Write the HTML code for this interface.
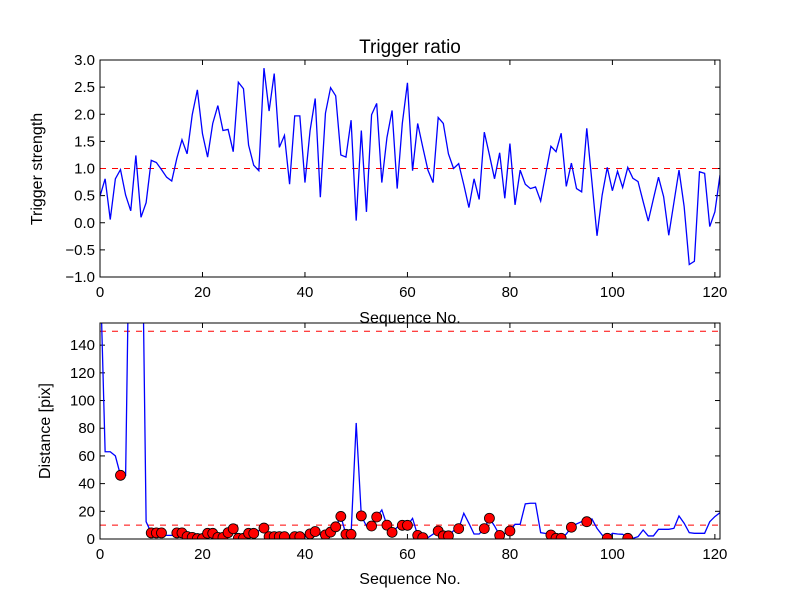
<!DOCTYPE html>
<html><head><meta charset="utf-8"><style>
body{margin:0;background:#fff;}
svg text{font-family:"Liberation Sans",sans-serif;}
</style></head><body>
<svg id="chart" width="800" height="600" xmlns="http://www.w3.org/2000/svg"></svg>
<script>
const strength = [0.49,0.81,0.06,0.81,0.98,0.51,0.22,1.24,0.10,0.37,1.15,1.11,0.98,0.84,0.77,1.19,1.53,1.27,1.99,2.45,1.64,1.21,1.83,2.16,1.70,1.72,1.31,2.59,2.47,1.43,1.06,0.96,2.85,2.06,2.75,1.39,1.61,0.71,1.97,1.97,0.74,1.70,2.29,0.47,2.02,2.49,2.34,1.25,1.21,1.89,0.04,1.70,0.20,1.99,2.20,0.74,1.57,2.07,0.63,1.83,2.58,0.96,1.83,1.39,0.97,0.74,1.94,1.83,1.27,1.00,1.09,0.70,0.28,0.81,0.43,1.67,1.25,0.81,1.29,0.45,1.46,0.33,0.97,0.71,0.63,0.66,0.40,0.91,1.41,1.31,1.65,0.67,1.10,0.63,0.57,1.74,0.76,-0.24,0.51,1.02,0.59,0.95,0.65,1.02,0.82,0.76,0.39,0.03,0.44,0.84,0.48,-0.23,0.37,0.97,0.30,-0.77,-0.71,0.94,0.91,-0.07,0.20,0.88];
const distance = [200,63,63,60,46,46,300,300,300,12.5,4.4,4.4,4.4,2.6,2.6,4.4,4.4,1.8,1.2,0.3,0.3,4.1,4.1,1.2,1.2,4.6,7.4,0.5,0.5,4.1,4.1,6,7.9,1.7,1.7,1.7,1.7,1.5,1.7,1.7,1.5,3.7,5.4,3,3,5,8.8,16.3,3.4,3.4,83.8,16.7,9.4,9.4,15.9,21,10,4.8,8.5,9.9,9.9,14.9,2.6,1,1,3.5,5.8,2.3,2.3,6,7.5,18.6,11.3,3.6,3.6,7.5,15,9.4,2.6,4.1,5.8,10.6,10.6,25.4,25.8,25.8,4.6,4,2.9,0.5,0.5,3.6,8.5,10.9,12.5,12.5,14.5,7.7,2.9,0.5,4.1,3.6,3.4,0.5,0.5,1.7,6.5,2.2,2.2,7,7,7,7.7,16.6,11.4,4.6,4.1,4.1,4.1,12.5,16.2,19];
const markedIdx = [4,10,11,12,15,16,17,18,19,20,21,22,23,24,25,26,27,28,29,30,32,33,34,35,36,38,39,41,42,44,45,46,47,48,49,51,53,54,56,57,59,60,62,63,66,67,68,70,75,76,78,80,88,89,90,92,95,99,103];
const xTicks = [0,20,40,60,80,100,120];
const topYTicks = [-1.0,-0.5,0.0,0.5,1.0,1.5,2.0,2.5,3.0];
const botYTicks = [0,20,40,60,80,100,120,140];
const topThreshold = [1.0];
const botThresholds = [10,150];

const NS="http://www.w3.org/2000/svg";
const svg=document.getElementById('chart');
function mk(tag,attrs,parent){const e=document.createElementNS(NS,tag);for(const k in attrs)e.setAttribute(k,attrs[k]);(parent||svg).appendChild(e);return e;}
const L=100,R=720;
const xs=v=>L+(v/121)*(R-L);
const axTop={t:60,b:277,min:-1,max:3};
const axBot={t:323,b:539,min:0,max:156};
const ys=(ax,v)=>ax.b-(v-ax.min)/(ax.max-ax.min)*(ax.b-ax.t);

function axes(ax,yt,fmt,name){
  const g=mk('g',{});
  
  
  const clip=mk('clipPath',{id:'c'+name},g);
  mk('rect',{x:L,y:ax.t,width:R-L,height:ax.b-ax.t},clip);
  xTicks.forEach(v=>{
    const x=xs(v);
    mk('line',{x1:x,x2:x,y1:ax.b,y2:ax.b-5,stroke:'#000'},g);
    mk('line',{x1:x,x2:x,y1:ax.t,y2:ax.t+5,stroke:'#000'},g);
    const t=mk('text',{x:x,y:ax.b+20,'text-anchor':'middle','font-size':'15'},g);
    t.textContent=v;
    
    
  });
  yt.forEach(v=>{
    const y=ys(ax,v);
    mk('line',{x1:L,x2:L+5,y1:y,y2:y,stroke:'#000'},g);
    mk('line',{x1:R,x2:R-5,y1:y,y2:y,stroke:'#000'},g);
    const t=mk('text',{x:L-5,y:y+5,'text-anchor':'end','font-size':'15'},g);
    t.textContent=fmt(v);
    
    
  });
  return g;
}
function frame(ax){mk('rect',{x:L,y:ax.t,width:R-L,height:ax.b-ax.t,fill:'none',stroke:'#000','stroke-width':1});}

// top plot
axes(axTop,topYTicks,v=>(v<0?'\u2212':'')+Math.abs(v).toFixed(1),'top-axes');
topThreshold.forEach(v=>{const l=mk('line',{x1:L,x2:R,y1:ys(axTop,v),y2:ys(axTop,v),stroke:'#f00','stroke-dasharray':'6,6','stroke-width':1});

});
const p1=mk('polyline',{points:strength.map((v,i)=>xs(i)+','+ys(axTop,v)).join(' '),fill:'none',stroke:'#00f','stroke-width':1.3,'clip-path':'url(#ctop-axes)'});


frame(axTop);

// bottom plot
axes(axBot,botYTicks,v=>v,'bottom-axes');
botThresholds.forEach(v=>{const l=mk('line',{x1:L,x2:R,y1:ys(axBot,v),y2:ys(axBot,v),stroke:'#f00','stroke-dasharray':'6,6','stroke-width':1});

});
const p2=mk('polyline',{points:distance.map((v,i)=>xs(i)+','+ys(axBot,v)).join(' '),fill:'none',stroke:'#00f','stroke-width':1.3,'clip-path':'url(#cbottom-axes)'});


markedIdx.forEach(i=>{
  const c=mk('circle',{cx:xs(i),cy:ys(axBot,distance[i]),r:5,fill:'#f00',stroke:'#000','stroke-width':0.8,'clip-path':'url(#cbottom-axes)'});
  
  
});
frame(axBot);

function label(txt,x,y,name,rot,size){
  const t=mk('text',{x:x,y:y,'text-anchor':'middle','font-size':size||16});
  if(rot)t.setAttribute('transform','rotate(-90 '+x+' '+y+')');
  t.textContent=txt;
  
  
}
label('Trigger ratio',410,53,'chart-title',false,19);
label('Sequence No.',410,323,'top-x-axis-title');
label('Sequence No.',410,584,'bottom-x-axis-title');
label('Trigger strength',42,169,'top-y-axis-title',true);
label('Distance [pix]',50,431,'bottom-y-axis-title',true);
</script>
</body></html>
